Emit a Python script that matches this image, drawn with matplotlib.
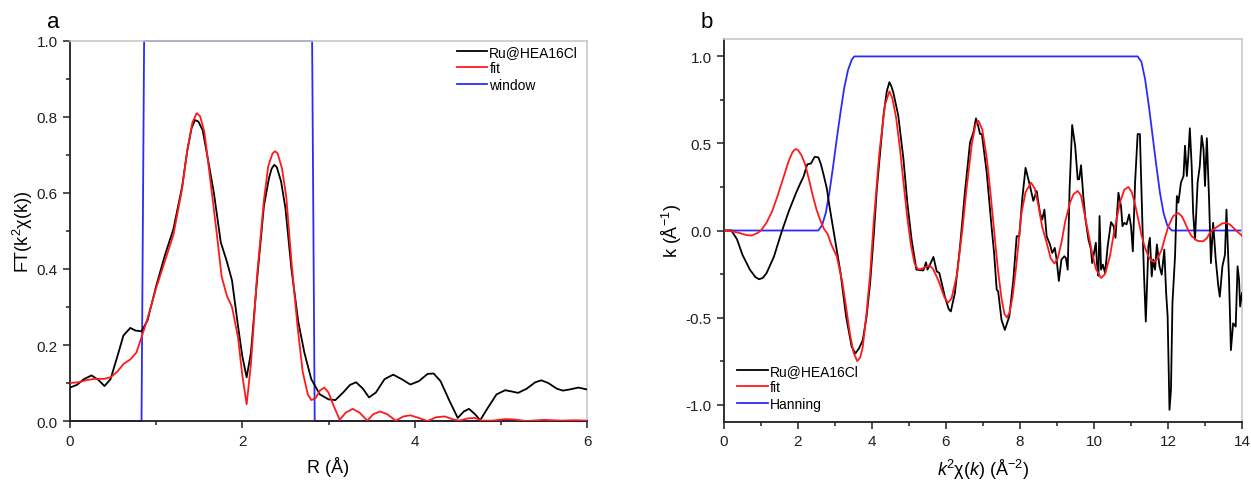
import matplotlib
matplotlib.use("Agg")
import matplotlib.pyplot as plt
from matplotlib.ticker import MultipleLocator, FormatStrFormatter

plt.rcParams['font.family'] = ['Liberation Sans', 'DejaVu Sans']
plt.rcParams['mathtext.fontset'] = 'custom'
plt.rcParams['mathtext.rm'] = 'Liberation Sans'
plt.rcParams['mathtext.it'] = 'Liberation Sans:italic'
plt.rcParams['axes.unicode_minus'] = False

# ---------------- Panel a: R space ----------------
r_data = [0.00, 0.08, 0.16, 0.25, 0.33, 0.40, 0.47, 0.55, 0.62, 0.70, 0.76, 0.83, 0.90,
          1.00, 1.10, 1.20, 1.30, 1.36, 1.41, 1.45, 1.49, 1.54, 1.60, 1.67, 1.75, 1.82, 1.88, 1.95,
          2.00, 2.05, 2.10, 2.17, 2.25, 2.31, 2.34, 2.37, 2.40, 2.45, 2.50, 2.57, 2.65, 2.72, 2.80,
          2.90, 3.00, 3.08, 3.17, 3.25, 3.32, 3.40, 3.47, 3.55, 3.65, 3.75, 3.85, 3.95,
          4.05, 4.15, 4.22, 4.30, 4.40, 4.50, 4.57, 4.63, 4.70, 4.76, 4.85, 4.95, 5.05,
          5.12, 5.20, 5.30, 5.40, 5.47, 5.55, 5.65, 5.72, 5.80, 5.90, 6.00]
ft_data = [0.088, 0.095, 0.110, 0.120, 0.108, 0.092, 0.110, 0.170, 0.225, 0.245, 0.238, 0.236, 0.265,
           0.355, 0.435, 0.505, 0.615, 0.710, 0.770, 0.792, 0.788, 0.765, 0.690, 0.600, 0.470, 0.420, 0.370, 0.250,
           0.170, 0.115, 0.180, 0.370, 0.565, 0.640, 0.664, 0.674, 0.668, 0.630, 0.560, 0.400, 0.260, 0.180, 0.110,
           0.070, 0.057, 0.055, 0.075, 0.095, 0.102, 0.085, 0.062, 0.075, 0.110, 0.122, 0.110, 0.096,
           0.105, 0.124, 0.125, 0.105, 0.055, 0.008, 0.025, 0.032, 0.018, 0.002, 0.035, 0.070, 0.081,
           0.078, 0.074, 0.085, 0.102, 0.107, 0.100, 0.085, 0.080, 0.083, 0.088, 0.083]

r_fit = [0.00, 0.10, 0.20, 0.30, 0.40, 0.47, 0.55, 0.62, 0.70, 0.77, 0.83, 0.90, 1.00, 1.10,
         1.20, 1.30, 1.36, 1.42, 1.47, 1.51, 1.56, 1.62, 1.70, 1.76, 1.82, 1.88, 1.95, 2.00, 2.05, 2.10,
         2.17, 2.25, 2.30, 2.35, 2.38, 2.41, 2.46, 2.51, 2.57, 2.64, 2.70, 2.76, 2.80, 2.85, 2.90, 2.95,
         3.00, 3.06, 3.13, 3.20, 3.28, 3.36, 3.45, 3.52, 3.60, 3.68, 3.78, 3.87, 3.95, 4.05,
         4.15, 4.25, 4.35, 4.45, 4.52, 4.62, 4.70, 4.78, 4.90, 5.05, 5.15, 5.30, 5.50, 5.70,
         5.85, 6.00]
ft_fit = [0.100, 0.102, 0.108, 0.111, 0.111, 0.115, 0.130, 0.150, 0.162, 0.180, 0.220, 0.270, 0.350, 0.420,
          0.490, 0.610, 0.710, 0.785, 0.810, 0.802, 0.760, 0.650, 0.500, 0.380, 0.330, 0.300, 0.220, 0.120, 0.044, 0.150,
          0.380, 0.580, 0.670, 0.704, 0.710, 0.704, 0.665, 0.590, 0.420, 0.250, 0.130, 0.070, 0.055, 0.060, 0.080, 0.088,
          0.075, 0.040, 0.003, 0.022, 0.032, 0.022, 0.001, 0.018, 0.025, 0.018, 0.001, 0.012, 0.015, 0.008,
          0.000, 0.010, 0.012, 0.004, 0.001, 0.007, 0.008, 0.001, 0.001, 0.005, 0.004, 0.000, 0.003, 0.001,
          0.002, 0.001]

r_window = [0.00, 0.83, 0.86, 2.81, 2.84, 6.00]
window_vals = [0.0, 0.0, 1.0, 1.0, 0.0, 0.0]

# ---------------- Panel b: k space ----------------
k_data = [0.00, 0.20, 0.35, 0.50, 0.70, 0.85, 0.95, 1.05, 1.15, 1.35, 1.55, 1.75, 1.95, 2.05, 2.15,
          2.25, 2.35, 2.45, 2.55, 2.62, 2.70, 2.78, 2.85, 3.00, 3.15, 3.30, 3.45, 3.55, 3.65, 3.75,
          3.85, 3.95, 4.05, 4.13, 4.31, 4.40, 4.47, 4.52, 4.575, 4.71, 4.85, 4.955, 5.07, 5.20,
          5.30, 5.39, 5.46, 5.50, 5.58, 5.66, 5.75, 5.82, 5.97, 6.07, 6.13, 6.24, 6.38, 6.51, 6.65,
          6.74, 6.81, 6.87, 6.92, 6.97, 7.10, 7.23, 7.30, 7.37, 7.41, 7.50, 7.59, 7.71, 7.82, 7.91,
          7.98, 8.06, 8.15, 8.27, 8.36, 8.45, 8.54, 8.60, 8.66, 8.72, 8.81, 8.87, 8.94, 8.99, 9.05,
          9.12, 9.20, 9.24, 9.29, 9.34, 9.41, 9.49, 9.56, 9.60, 9.65, 9.71, 9.77, 9.85, 9.92, 9.95,
          10.00, 10.05, 10.08, 10.12, 10.15, 10.19, 10.24, 10.30, 10.37, 10.46, 10.53, 10.58, 10.66,
          10.73, 10.77, 10.82, 10.88, 10.95, 11.00, 11.05, 11.11, 11.18, 11.24, 11.31, 11.35, 11.40,
          11.47, 11.51, 11.56, 11.60, 11.65, 11.70, 11.77, 11.83, 11.90, 11.95, 11.99, 12.04, 12.08,
          12.12, 12.19, 12.24, 12.28, 12.35, 12.42, 12.46, 12.51, 12.55, 12.59, 12.64, 12.68, 12.73,
          12.80, 12.86, 12.91, 12.96, 13.00, 13.05, 13.11, 13.16, 13.22, 13.29, 13.36, 13.40, 13.47,
          13.54, 13.58, 13.65, 13.70, 13.76, 13.83, 13.88, 13.92, 13.95, 14.00]
chi_data = [0.000, 0.000, -0.050, -0.140, -0.225, -0.268, -0.280, -0.272, -0.245, -0.150, -0.013, 0.110, 0.217, 0.265, 0.310,
            0.380, 0.385, 0.423, 0.420, 0.380, 0.313, 0.240, 0.140, -0.052, -0.244, -0.494, -0.667, -0.706, -0.677, -0.630,
            -0.500, -0.300, -0.020, 0.237, 0.660, 0.800, 0.852, 0.830, 0.794, 0.660, 0.410, 0.160, -0.052, -0.225,
            -0.228, -0.229, -0.183, -0.225, -0.190, -0.152, -0.235, -0.244, -0.380, -0.450, -0.465, -0.360, -0.090, 0.217, 0.506,
            0.563, 0.644, 0.600, 0.554, 0.554, 0.333, 0.025, -0.129, -0.340, -0.350, -0.513, -0.571, -0.494, -0.283, -0.033,
            -0.033, 0.180, 0.360, 0.256, 0.170, 0.227, 0.100, 0.063, 0.120, -0.033, -0.080, -0.129, -0.100, -0.167, -0.290,
            -0.167, -0.148, -0.158, -0.225, 0.237, 0.606, 0.487, 0.294, 0.294, 0.375, 0.198, 0.063, -0.052, -0.110, -0.187,
            -0.129, -0.070, -0.190, -0.260, 0.083, -0.225, -0.196, -0.244, -0.090, 0.048, 0.025, -0.042, 0.217,
            0.140, 0.025, 0.044, 0.035, 0.092, 0.025, -0.120, 0.275, 0.554, 0.554, 0.025, -0.244, -0.523,
            -0.090, -0.042, -0.264, -0.167, -0.225, -0.080, -0.206, -0.254, -0.110, -0.360, -0.494, -1.030, -0.917,
            -0.417, -0.148, 0.198, 0.160, 0.275, 0.313, 0.487, 0.313, 0.430, 0.587, 0.371, 0.100, -0.052,
            0.275, 0.371, 0.544, 0.467, 0.256, 0.530, 0.180, -0.187, 0.044, -0.167, -0.320, -0.380, -0.206,
            -0.138, 0.120, -0.283, -0.687, -0.533, -0.552, -0.206, -0.283, -0.437, -0.360]

k_fit = [0.00, 0.20, 0.40, 0.60, 0.75, 0.90, 1.00, 1.15, 1.30, 1.45, 1.60, 1.75, 1.85, 1.93, 2.00,
         2.10, 2.20, 2.30, 2.40, 2.50, 2.60, 2.70, 2.80, 2.90, 3.05, 3.20, 3.30, 3.40, 3.50, 3.60,
         3.68, 3.75, 3.85, 3.95, 4.05, 4.20, 4.35, 4.47, 4.55, 4.65, 4.75, 4.85, 4.95, 5.05, 5.15,
         5.25, 5.40, 5.55, 5.65, 5.80, 5.95, 6.05, 6.15, 6.30, 6.45, 6.55, 6.70, 6.80, 6.88, 6.98,
         7.10, 7.20, 7.30, 7.40, 7.50, 7.58, 7.65, 7.72, 7.80, 7.90, 8.04, 8.15, 8.30, 8.40, 8.50,
         8.60, 8.72, 8.83, 8.93, 9.02, 9.12, 9.22, 9.35, 9.45, 9.56, 9.65, 9.74, 9.85, 9.95, 10.05,
         10.19, 10.30, 10.43, 10.55, 10.70, 10.82, 10.93, 11.02, 11.11, 11.20, 11.29, 11.38, 11.47,
         11.55, 11.63, 11.72, 11.83, 11.92, 12.01, 12.14, 12.28, 12.38, 12.46, 12.55, 12.64, 12.80,
         12.95, 13.05, 13.13, 13.25, 13.36, 13.46, 13.56, 13.67, 13.77, 13.88, 14.00]
chi_fit = [0.000, -0.004, -0.013, -0.026, -0.029, -0.015, 0.000, 0.045, 0.110, 0.200, 0.300, 0.400, 0.450, 0.468, 0.462,
           0.430, 0.375, 0.290, 0.200, 0.120, 0.060, 0.010, -0.020, -0.080, -0.150, -0.300, -0.440, -0.590, -0.700, -0.750,
           -0.730, -0.670, -0.480, -0.250, 0.060, 0.450, 0.720, 0.800, 0.760, 0.650, 0.480, 0.280, 0.080, -0.080, -0.190,
           -0.225, -0.215, -0.200, -0.220, -0.290, -0.380, -0.415, -0.390, -0.250, 0.020, 0.230, 0.500, 0.610, 0.630, 0.580,
           0.420, 0.220, 0.000, -0.220, -0.390, -0.480, -0.500, -0.470, -0.380, -0.200, 0.100, 0.220, 0.275, 0.240, 0.140,
           0.020, -0.070, -0.160, -0.190, -0.160, -0.070, 0.050, 0.160, 0.210, 0.227, 0.200, 0.100, -0.020, -0.130, -0.220,
           -0.273, -0.250, -0.148, 0.000, 0.160, 0.235, 0.250, 0.220, 0.150, 0.060, -0.033, -0.100, -0.148,
           -0.175, -0.180, -0.160, -0.110, -0.040, 0.025, 0.083, 0.100, 0.080, 0.044, 0.000, -0.033, -0.060,
           -0.062, -0.045, -0.013, 0.010, 0.025, 0.040, 0.044, 0.035, 0.015, -0.008, -0.030]

k_hann = [0.00, 2.55, 2.65, 2.75, 2.85, 2.95, 3.05, 3.15, 3.25, 3.35, 3.45, 3.52,
          11.18, 11.28, 11.38, 11.48, 11.58, 11.68, 11.78, 11.88, 11.98, 12.10, 14.00]
hann_vals = [0.0, 0.0, 0.03, 0.10, 0.22, 0.37, 0.53, 0.68, 0.82, 0.92, 0.98, 1.0,
             1.0, 0.97, 0.87, 0.72, 0.55, 0.38, 0.22, 0.10, 0.03, 0.0, 0.0]

legend_a = ['Ru@HEA16Cl', 'fit', 'window']
legend_b = ['Ru@HEA16Cl', 'fit', 'Hanning']

W, H = 1251, 481
fig = plt.figure(figsize=(W / 100, H / 100), dpi=100)

def px_axes(x0, x1, y0, y1):
    return fig.add_axes([x0 / W, 1 - y1 / H, (x1 - x0) / W, (y1 - y0) / H])

axA = px_axes(70, 587, 42, 422)
axB = px_axes(724, 1242, 40, 423)

LW = 1.3
BLACK = '#000000'
RED = '#ff1a1a'
BLUE = '#2b2bff'

def style(ax):
    for s in ['top', 'right']:
        ax.spines[s].set_color('#c8c8c8')
        ax.spines[s].set_linewidth(1.2)
    for s in ['left', 'bottom']:
        ax.spines[s].set_color('#202020')
        ax.spines[s].set_linewidth(1.3)
    ax.tick_params(which='both', direction='out', top=False, right=False,
                   labelsize=11, colors='#202020', width=1.1)
    ax.tick_params(which='major', length=5, pad=4)
    ax.tick_params(which='minor', length=3)

# Panel a
axA.plot(r_data, ft_data, color=BLACK, lw=LW, label=legend_a[0], zorder=3)
axA.plot(r_fit, ft_fit, color=RED, lw=LW, label=legend_a[1], zorder=4)
axA.plot(r_window, window_vals, color=BLUE, lw=LW, label=legend_a[2], zorder=2, clip_on=False)
axA.set_xlim(0, 6)
axA.set_ylim(0, 1.0)
axA.xaxis.set_major_locator(MultipleLocator(2))
axA.xaxis.set_minor_locator(MultipleLocator(1))
axA.yaxis.set_major_locator(MultipleLocator(0.2))
axA.yaxis.set_minor_locator(MultipleLocator(0.1))
axA.yaxis.set_major_formatter(FormatStrFormatter('%.1f'))
style(axA)
axA.set_xlabel('R (Å)', fontsize=13, labelpad=6)
axA.set_ylabel('FT(k$^{2}$χ(k))', fontsize=13, labelpad=1)
axA.legend(loc='upper left', bbox_to_anchor=(0.748, 0.99), frameon=False,
           fontsize=10, handlelength=2.2, handletextpad=0.15, labelspacing=0.18,
           borderpad=0, borderaxespad=0)
fig.text(53 / W, 1 - 23 / H, 'a', fontsize=16, ha='center', va='center')

# Panel b
axB.plot(k_data, chi_data, color=BLACK, lw=LW, label=legend_b[0], zorder=3)
axB.plot(k_fit, chi_fit, color=RED, lw=LW, label=legend_b[1], zorder=4)
axB.plot(k_hann, hann_vals, color=BLUE, lw=LW, label=legend_b[2], zorder=2)
axB.set_xlim(0, 14)
axB.set_ylim(-1.1, 1.1)
axB.xaxis.set_major_locator(MultipleLocator(2))
axB.xaxis.set_minor_locator(MultipleLocator(1))
axB.yaxis.set_major_locator(MultipleLocator(0.5))
axB.yaxis.set_minor_locator(MultipleLocator(0.25))
axB.yaxis.set_major_formatter(FormatStrFormatter('%.1f'))
style(axB)
axB.set_xlabel('$k$$^{2}$χ($k$) (Å$^{-2}$)', fontsize=13, labelpad=6)
axB.set_ylabel('k (Å$^{-1}$)', fontsize=13, labelpad=1)
axB.legend(loc='upper left', bbox_to_anchor=(0.025, 0.152), frameon=False,
           fontsize=10, handlelength=2.2, handletextpad=0.15, labelspacing=0.18,
           borderpad=0, borderaxespad=0)
fig.text(707 / W, 1 - 23 / H, 'b', fontsize=16, ha='center', va='center')

fig.savefig('out.png', dpi=100)
